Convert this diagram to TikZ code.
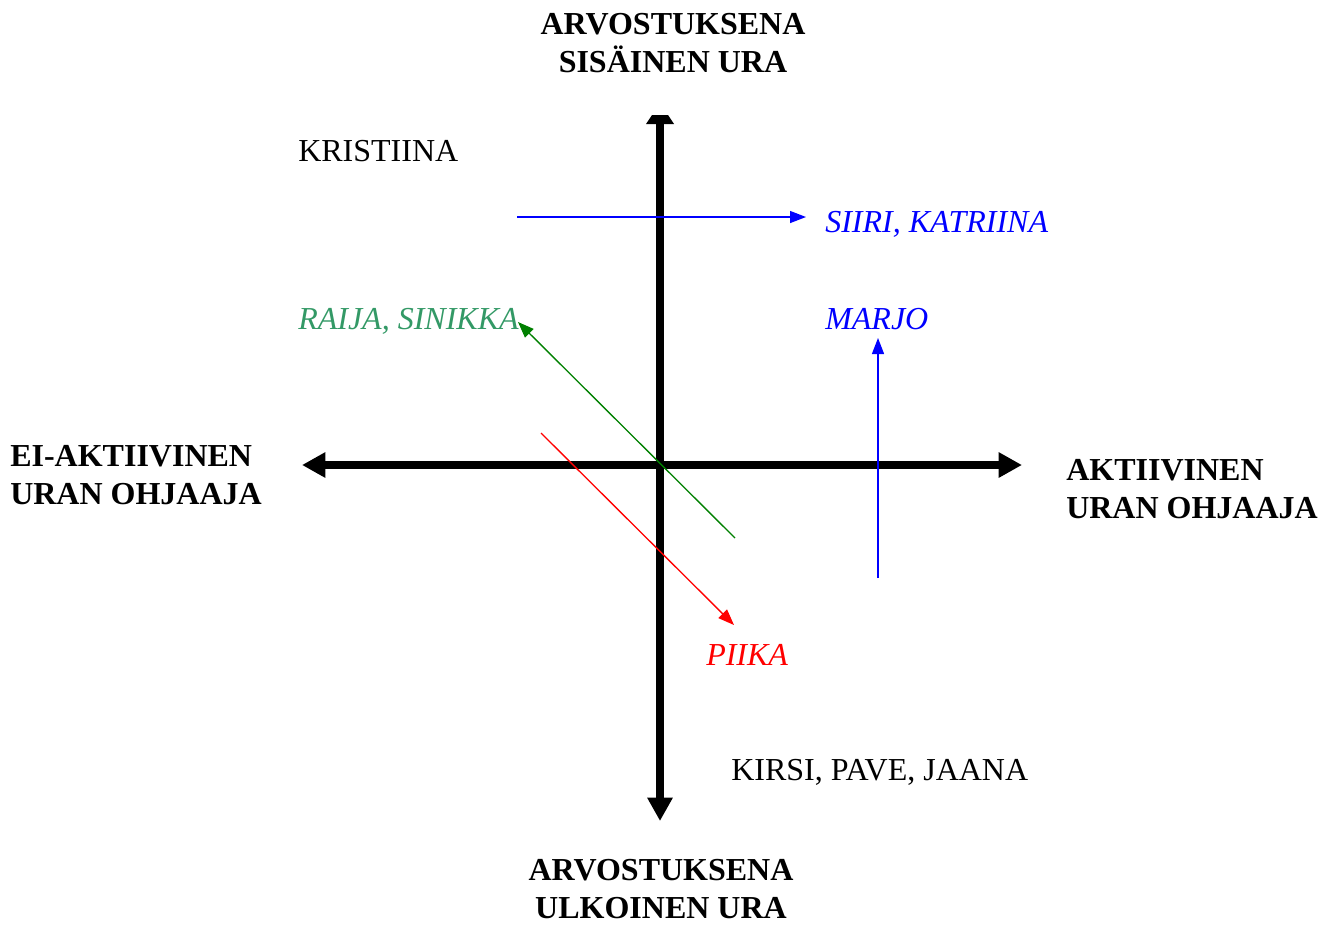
\documentclass[tikz,border=0pt]{standalone}
\usepackage{fontspec}
\setmainfont{Liberation Serif}
\usetikzlibrary{arrows.meta}
\definecolor{sgreen}{RGB}{51,153,102}
\definecolor{dgreen}{RGB}{0,128,0}
\begin{document}
\begin{tikzpicture}[x=0.75pt,y=-0.75pt,
  lbl/.style={inner sep=0pt,font=\fontsize{24}{28.5}\selectfont},
  head/.style={lbl,font=\fontsize{24}{28}\selectfont\bfseries},
  axis/.style={line width=6pt,-{Triangle[length=17.5pt,width=18pt]}},
  thin/.style={line width=1pt,-{Triangle[length=12pt,width=9pt]}}]
\useasboundingbox (0,0) rectangle (1328,926);
% axes
\coordinate (top) at (660,120);
\coordinate (bot) at (660,821);
\coordinate (left) at (302,465);
\coordinate (right) at (1022,465);
\coordinate (c) at (660,465);
\draw[axis] (top) -- (bot);
\draw[axis] (c) -- (left);
\draw[axis] (c) -- (right);
\fill (652,115) -- (668,115) -- (674,124) -- (646,124) -- cycle;
% thin arrows
\coordinate (b1s) at (517,217);
\coordinate (b1e) at (806,217);
\coordinate (b2s) at (878,578);
\coordinate (b2e) at (878,338);
\coordinate (gs) at (735,538);
\coordinate (ge) at (518,322);
\coordinate (rs) at (541,433);
\coordinate (re) at (734,625);
\draw[thin,blue] (b1s) -- (b1e);
\draw[thin,blue] (b2s) -- (b2e);
\draw[thin,dgreen] (gs) -- (ge);
\draw[thin,red] (rs) -- (re);
% headings
\node[head,align=center] (ht) at (673,43) {ARVOSTUKSENA\\SISÄINEN URA};
\node[head,align=center] (hb) at (661,889) {ARVOSTUKSENA\\ULKOINEN URA};
\node[head,align=left,anchor=west] (hl) at (10,475) {EI-AKTIIVINEN\\URAN OHJAAJA};
\node[head,align=left,anchor=west] (hr) at (1066,489) {AKTIIVINEN\\URAN OHJAAJA};
% labels
\node[lbl,anchor=base west] (kr) at (298,161) {KRISTIINA};
\node[lbl,anchor=base west,blue,font=\fontsize{24}{28.5}\selectfont\itshape] (si) at (825,232) {SIIRI, KATRIINA};
\node[lbl,anchor=base west,sgreen,font=\fontsize{24}{28.5}\selectfont\itshape] (ra) at (298,329) {RAIJA, SINIKKA};
\node[lbl,anchor=base west,blue,font=\fontsize{24}{28.5}\selectfont\itshape] (ma) at (825,329) {MARJO};
\node[lbl,anchor=base west,red,font=\fontsize{24}{28.5}\selectfont\itshape] (pi) at (706,665) {PIIKA};
\node[lbl,anchor=base west] (ki) at (731,780) {KIRSI, PAVE, JAANA};
\end{tikzpicture}
\end{document}
